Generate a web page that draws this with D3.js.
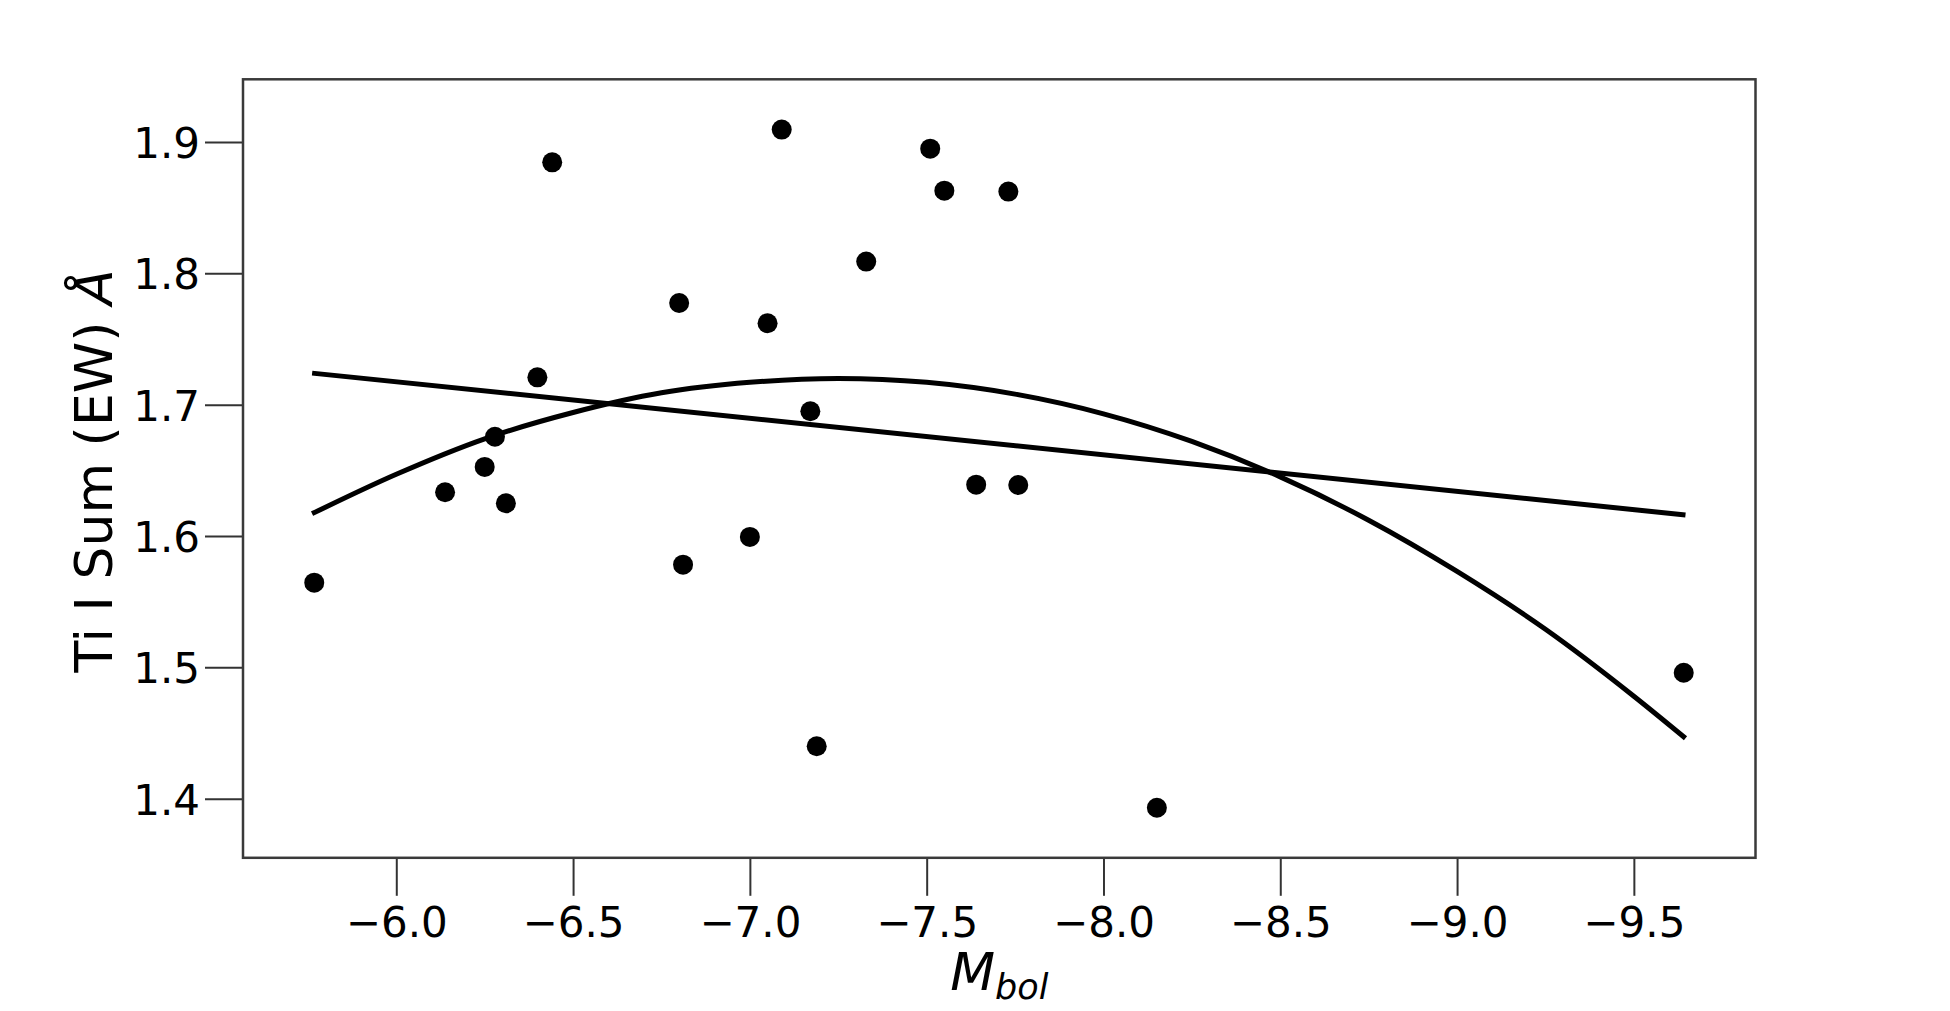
<!DOCTYPE html>
<html>
<head>
<meta charset="utf-8">
<script src="https://cdn.jsdelivr.net/npm/d3@7"></script>
<style>
  body { margin: 0; background: #fff; }
  text { font-family: "DejaVu Sans", sans-serif; fill: #000; }
</style>
</head>
<body>
<div id="chart"></div>
<script>
// star data
const mbol = [-5.768, -6.138, -6.250, -6.279, -6.310, -6.399, -6.441, -6.800, -6.811, -7.000, -7.050,
              -7.090, -7.171, -7.189, -7.329, -7.510, -7.550, -7.640, -7.731, -7.759, -8.151, -9.641];
const tiSum = [1.5645, 1.6333, 1.6526, 1.6756, 1.6249, 1.7208, 1.8845, 1.7774, 1.5782, 1.5993, 1.7620,
               1.9094, 1.6950, 1.4399, 1.8089, 1.8949, 1.8629, 1.6391, 1.8622, 1.6388, 1.3931, 1.4959];

// linear fit line (ends)
const linX = [-5.762, -9.646];
const linY = [1.724, 1.616];

// quadratic fit, sampled along the curve
const quadX = [-5.762, -6.0, -6.25, -6.5, -6.75, -7.0, -7.25, -7.5, -7.75, -8.0,
               -8.25, -8.5, -8.75, -9.0, -9.25, -9.5, -9.646];
const quadY = [1.617, 1.647, 1.674, 1.694, 1.709, 1.717, 1.720, 1.717, 1.708, 1.693,
               1.672, 1.645, 1.612, 1.573, 1.529, 1.478, 1.446];

const xTicks = [-6.0, -6.5, -7.0, -7.5, -8.0, -8.5, -9.0, -9.5];
const yTicks = [1.4, 1.5, 1.6, 1.7, 1.8, 1.9];

const width = 1950, height = 1011;
const plotL = 243, plotR = 1755.5, plotT = 79.3, plotB = 857.8;

const svg = d3.select("#chart").append("svg")
  .attr("width", width)
  .attr("height", height);

const x = d3.scaleLinear().domain([-5.5665, -9.844]).range([plotL, plotR]);
const y = d3.scaleLinear().domain([1.355, 1.9477]).range([plotB, plotT]);

// axes
const xAxis = svg.append("g")
  .attr("transform", `translate(0,${plotB})`)
  .call(d3.axisBottom(x).tickValues(xTicks).tickFormat(d3.format(".1f")).tickSize(38).tickPadding(11));
const yAxis = svg.append("g")
  .attr("transform", `translate(${plotL},0)`)
  .call(d3.axisLeft(y).tickValues(yTicks).tickFormat(d3.format(".1f")).tickSize(38).tickPadding(5));

[xAxis, yAxis].forEach(a => {
  a.select(".domain").remove();
  a.selectAll(".tick line").attr("stroke", "#333").attr("stroke-width", 2);
  a.selectAll(".tick text").attr("font-size", 42).attr("fill", "#000")
    .style("font-family", "'DejaVu Sans', sans-serif");
});
yAxis.selectAll(".tick text").attr("dy", "0.37em");

// frame
svg.append("rect")
  .attr("x", plotL).attr("y", plotT)
  .attr("width", plotR - plotL).attr("height", plotB - plotT)
  .attr("fill", "none")
  .attr("stroke", "#3a3a3a")
  .attr("stroke-width", 2.5);

// fits
const line = d3.line().x(d => x(d[0])).y(d => y(d[1]));
svg.append("path")
  .attr("d", line(d3.zip(linX, linY)))
  .attr("fill", "none").attr("stroke", "#000").attr("stroke-width", 5);
svg.append("path")
  .attr("d", line.curve(d3.curveMonotoneX)(d3.zip(quadX, quadY)))
  .attr("fill", "none").attr("stroke", "#000").attr("stroke-width", 5);

// points
svg.append("g").selectAll("circle")
  .data(d3.zip(mbol, tiSum))
  .enter()
  .append("circle")
  .attr("cx", d => x(d[0]))
  .attr("cy", d => y(d[1]))
  .attr("r", 10)
  .attr("fill", "#000");

// axis titles
const xt = svg.append("text")
  .attr("x", (plotL + plotR) / 2)
  .attr("y", 990)
  .attr("text-anchor", "middle")
  .attr("font-size", 52);
xt.append("tspan").attr("font-style", "italic").text("M");
xt.append("tspan").attr("font-style", "italic").attr("font-size", 35).attr("dy", 9).text("bol");

const yt = svg.append("text")
  .attr("transform", `translate(112,471) rotate(-90)`)
  .attr("text-anchor", "middle")
  .attr("font-size", 52);
yt.append("tspan").text("Ti I Sum (EW) ");
yt.append("tspan").attr("font-style", "italic").text("Å");
</script>
</body>
</html>
